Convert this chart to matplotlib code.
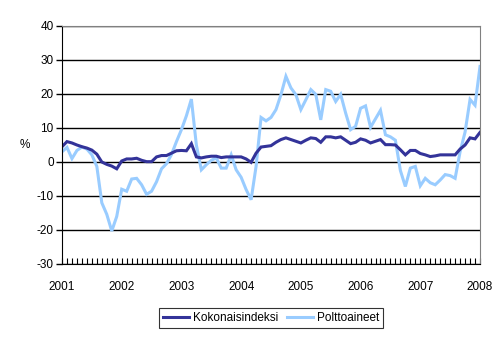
import matplotlib
matplotlib.use("Agg")
import matplotlib.pyplot as plt
from matplotlib.lines import Line2D

plt.rcParams["font.family"] = ["Liberation Sans", "DejaVu Sans"]
plt.rcParams["axes.unicode_minus"] = False

# Monthly change, %, Jan 2001 - Jan 2008
years = ["2001", "2002", "2003", "2004", "2005", "2006", "2007", "2008"]

kokonaisindeksi = [
    4.5, 6.0, 5.6, 5.0, 4.5, 4.1, 3.5, 2.3, 0.0, -0.7, -1.2, -2.0,
    0.3, 0.9, 0.9, 1.1, 0.5, 0.1, 0.1, 1.5, 1.9, 1.9, 2.6, 3.3,
    3.4, 3.3, 5.4, 1.5, 1.2, 1.5, 1.7, 1.7, 1.3, 1.5, 1.5, 1.5,
    1.5, 0.9, -0.1, 2.6, 4.4, 4.6, 4.8, 5.8, 6.6, 7.1, 6.6, 6.1,
    5.6, 6.4, 7.1, 6.9, 5.8, 7.4, 7.4, 7.1, 7.4, 6.4, 5.4, 5.8,
    6.8, 6.4, 5.6, 6.1, 6.6, 5.1, 5.1, 5.0, 3.6, 2.1, 3.4, 3.4,
    2.5, 2.1, 1.6, 1.8, 2.1, 2.1, 2.1, 2.1, 3.8, 5.0, 7.1, 6.8,
    8.7,
]

polttoaineet = [
    3.0, 4.3, 1.0, 3.4, 4.4, 3.8, 2.1, -1.3, -12.0, -15.4, -20.3, -16.0,
    -8.0, -8.6, -5.0, -4.8, -6.7, -9.5, -8.6, -5.8, -2.0, -0.5, 2.2, 6.0,
    9.5, 13.6, 18.5, 5.0, -2.3, -0.8, 0.5, 1.2, -1.8, -1.8, 2.1, -2.3,
    -4.5, -8.1, -11.1, -1.3, 13.1, 12.1, 13.1, 15.4, 19.8, 25.2, 21.8, 19.8,
    15.4, 18.3, 21.3, 19.9, 12.4, 21.3, 20.8, 17.8, 19.9, 14.4, 9.5, 10.5,
    15.8, 16.5, 10.2, 12.7, 15.2, 8.0, 7.4, 6.4, -2.5, -7.2, -1.8, -1.3,
    -7.0, -4.8, -6.1, -6.7, -5.3, -3.7, -4.0, -4.8, 3.0, 8.8, 18.4, 16.7,
    28.1,
]

months = list(range(len(kokonaisindeksi)))

dark = "#333399"
light = "#99ccff"

fig = plt.figure(figsize=(4.95, 3.38), dpi=100)
ax = fig.add_axes([62 / 495, 74 / 338, 418 / 495, 238 / 338])

ax.plot(months, polttoaineet, color=light, lw=2.2, solid_joinstyle="miter")
ax.plot(months, kokonaisindeksi, color=dark, lw=2.2, solid_joinstyle="miter")

ax.set_xlim(0, len(months) - 1)
ax.set_ylim(-30, 40)
ax.set_yticks(range(-30, 41, 10))
ax.grid(axis="y", color="black", lw=1.0)
ax.set_axisbelow(True)

ax.set_xticks(range(0, len(months), 12))
ax.set_xticklabels(years)
ax.set_xticks(months, minor=True)

for side in ("top", "right"):
    ax.spines[side].set_color("#808080")
for side in ("left", "bottom"):
    ax.spines[side].set_color("black")

ax.tick_params(axis="y", direction="out", length=4, width=1, labelsize=8.5, pad=2)
ax.tick_params(axis="x", which="major", direction="in", length=4, width=0.8,
               labelsize=8.5, pad=12)
ax.tick_params(axis="x", which="minor", direction="in", length=4, width=0.8)

fig.text(25 / 495, 1 - 145 / 338, "%", fontsize=8.5, ha="center", va="center")

handles = [
    Line2D([], [], color=dark, lw=2.2),
    Line2D([], [], color=light, lw=2.2),
]
leg = fig.legend(handles, ["Kokonaisindeksi", "Polttoaineet"],
                 loc="center", bbox_to_anchor=(271 / 495, 1 - 318 / 338),
                 ncol=2, fontsize=8.5, frameon=True, fancybox=False,
                 edgecolor="black", handlelength=2.2, handletextpad=0.3,
                 columnspacing=0.8, borderpad=0.3, borderaxespad=0)
leg.get_frame().set_linewidth(0.8)

fig.savefig("out.png", dpi=100)
